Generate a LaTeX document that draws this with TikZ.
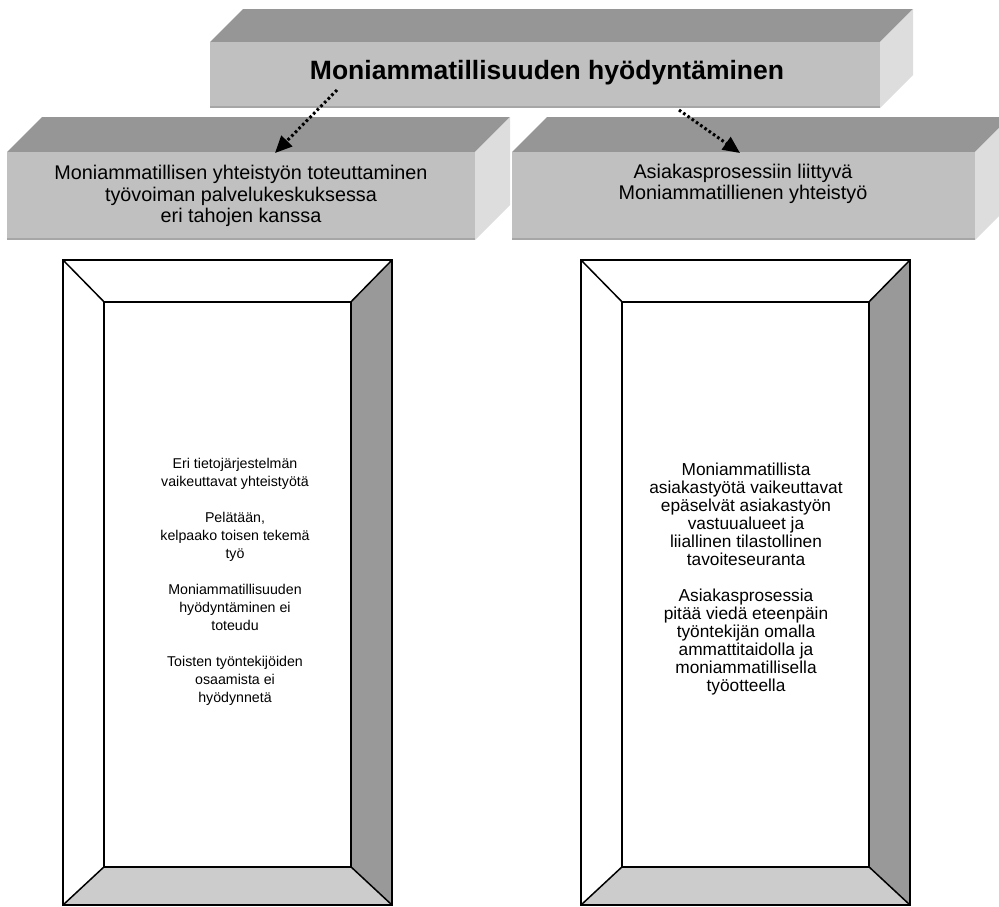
\documentclass[tikz,border=0pt]{standalone}
\usepackage{fontspec}
\setmainfont{Liberation Sans}
\usetikzlibrary{arrows.meta}

\definecolor{frontgray}{HTML}{C0C0C0}
\definecolor{topgray}{HTML}{969696}
\definecolor{sidegray}{HTML}{DDDDDD}
\definecolor{edgegray}{HTML}{A6A6A6}
\definecolor{bevelright}{HTML}{999999}
\definecolor{bevelbottom}{HTML}{CCCCCC}

% 3D slab: left, top, right, bottom of the front face, depth
\newcommand{\drawslab}[5]{%
  \fill[topgray] (#1,#2) -- (#1+#5,#2-#5) -- (#3+#5,#2-#5) -- (#3,#2) -- cycle;
  \fill[sidegray] (#3,#2) -- (#3+#5,#2-#5) -- (#3+#5,#4-#5) -- (#3,#4) -- cycle;
  \fill[frontgray] (#1,#2) rectangle (#3,#4);
  \fill[edgegray] (#1,#4-2.5) rectangle (#3,#4);
}

% bevelled frame: outer left, top, right, bottom, bevel width
\newcommand{\drawframe}[5]{%
  \fill[white] (#1,#2) rectangle (#3,#4);
  \fill[bevelright] (#3-#5,#2+#5*1.02) -- (#3,#2) -- (#3,#4) -- (#3-#5,#4-#5*0.93) -- cycle;
  \fill[bevelbottom] (#1,#4) -- (#1+#5,#4-#5*0.93) -- (#3-#5,#4-#5*0.93) -- (#3,#4) -- cycle;
  \draw[frameline] (#1,#2) rectangle (#3,#4);
  \draw[frameline] (#1+#5,#2+#5*1.02) rectangle (#3-#5,#4-#5*0.93);
  \draw[frameline] (#1,#2) -- (#1+#5,#2+#5*1.02);
  \draw[frameline] (#3,#2) -- (#3-#5,#2+#5*1.02);
  \draw[frameline] (#1,#4) -- (#1+#5,#4-#5*0.93);
  \draw[frameline] (#3,#4) -- (#3-#5,#4-#5*0.93);
}

\tikzset{
  frameline/.style={line width=1.5pt, black, line join=miter},
  titletext/.style={inner sep=0pt, align=center, font=\fontsize{26.5}{30}\selectfont\bfseries},
  headtext/.style={inner sep=0pt, align=center, font=\fontsize{19.8}{21.5}\selectfont},
  leftbodytext/.style={inner sep=0pt, align=center, font=\fontsize{14.2}{18}\selectfont},
  rightbodytext/.style={inner sep=0pt, align=center, font=\fontsize{17.3}{18}\selectfont},
  dotarrow/.style={line width=3pt, dash pattern=on 2.6pt off 2.6pt,
    -{Triangle[length=17pt,width=15pt]}},
}

\begin{document}
\begin{tikzpicture}[x=1pt,y=-1pt]
  \useasboundingbox (0,0) rectangle (999,906);

  % slabs
  \drawslab{210}{42}{880}{108}{33}
  \drawslab{7}{152}{475}{240}{35}
  \drawslab{512}{152}{975}{240}{35}

  % frames
  \drawframe{63}{260}{392}{905}{41}
  \drawframe{581}{260}{910}{905}{41}

  % slab labels
  \node[titletext] (title) at (547,73) {Moniammatillisuuden hyödyntäminen};
  \node[headtext] (lefthead) at (241,196)
    {Moniammatillisen yhteistyön toteuttaminen\\työvoiman palvelukeskuksessa\\eri tahojen kanssa};
  \node[headtext] (righthead) at (743,184)
    {Asiakasprosessiin liittyvä\\Moniammatillienen yhteistyö};

  % frame texts
  \node[leftbodytext] (leftbody) at (235,582)
    {Eri tietojärjestelmän\\vaikeuttavat yhteistyötä\\[18pt]Pelätään,\\kelpaako toisen tekemä\\työ\\[18pt]Moniammatillisuuden\\hyödyntäminen ei\\toteudu\\[18pt]Toisten työntekijöiden\\osaamista ei\\hyödynnetä};
  \node[rightbodytext] (rightbody) at (746,579)
    {Moniammatillista\\asiakastyötä vaikeuttavat\\epäselvät asiakastyön\\vastuualueet ja\\liiallinen tilastollinen\\tavoiteseuranta\\[18pt]Asiakasprosessia\\pitää viedä eteenpäin\\työntekijän omalla\\ammattitaidolla ja\\moniammatillisella\\työotteella};

  % dotted arrows from the title slab to the two lower slabs
  \coordinate (lstart) at (337,90);
  \coordinate (lend) at (275,153);
  \coordinate (rstart) at (679,110);
  \coordinate (rend) at (740,153);
  \draw[dotarrow] (lstart) -- (lend);
  \draw[dotarrow] (rstart) -- (rend);
\end{tikzpicture}
\end{document}
